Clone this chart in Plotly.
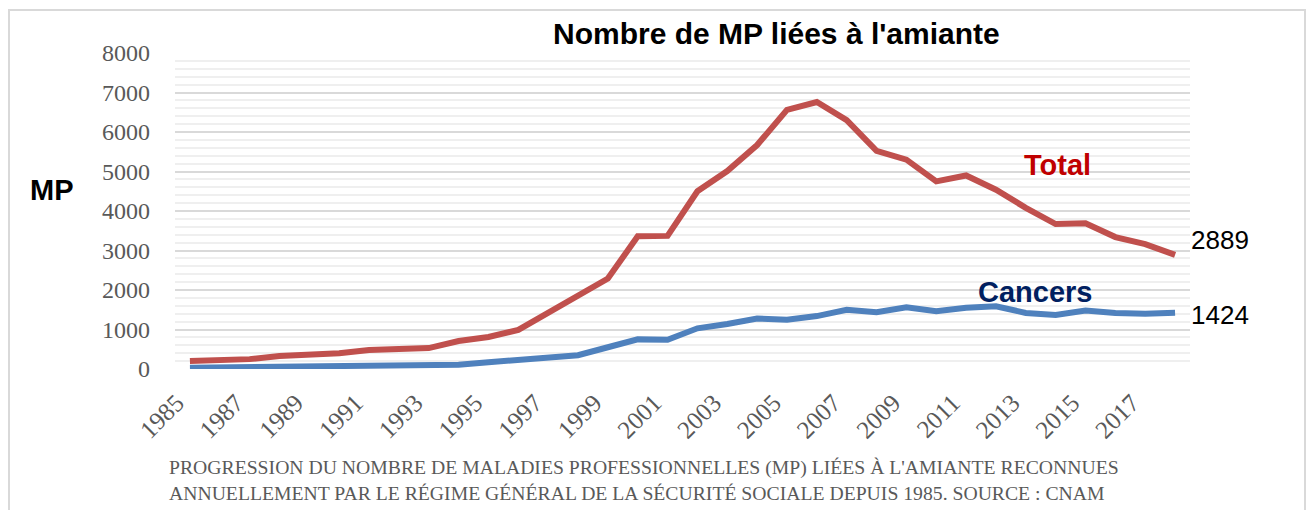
import plotly.graph_objects as go

years = list(range(1985, 2019))
total = [200, 240, 250, 330, 350, 400, 480, 500, 530, 710, 810, 990, 1420, 1830,
         2290, 3360, 3370, 4500, 5010, 5670, 6560, 6760, 6300, 5520, 5300, 4750,
         4900, 4540, 4080, 3670, 3690, 3340, 3160, 2889]
cancers = [30, 40, 35, 50, 60, 70, 75, 80, 90, 110, 170, 230, 290, 350,
           550, 750, 740, 1030, 1140, 1280, 1250, 1340, 1500, 1440, 1560, 1460,
           1550, 1590, 1420, 1370, 1480, 1420, 1400, 1424]
tick_years = list(range(1985, 2018, 2))
tick_text = [str(y) + "\u00a0\u00a0\u00a0" for y in tick_years]

# page offset (browser body margin)
OFF = 8
W, H = 1300, 510
# plot area in screen pixels
SL, SR, ST, SB = 175, 1190, 53, 369
L, R, T, B = SL - OFF, SR - OFF, ST - OFF, SB - OFF


def px(x):
    return (x - SL) / (SR - SL)


def py(y):
    return (SB - y) / (SB - ST)


fig = go.Figure()
fig.add_trace(go.Scatter(x=years, y=total, mode="lines", name="Total",
                         line=dict(color="#c0504d", width=6), showlegend=False))
fig.add_trace(go.Scatter(x=years, y=cancers, mode="lines", name="Cancers",
                         line=dict(color="#4f81bd", width=6), showlegend=False))

serif = "Liberation Serif"
sans = "Liberation Sans"
fig.update_layout(
    width=W, height=H,
    margin=dict(l=L, r=W - R, t=T, b=H - B),
    paper_bgcolor="white", plot_bgcolor="white",
    xaxis=dict(range=[1984.5, 2018.5], tickmode="array", tickvals=tick_years,
               ticktext=tick_text, tickangle=-45,
               showgrid=False, zeroline=False, showline=False, ticks="",
               ticklabelstandoff=0,
               tickfont=dict(family=serif, size=25, color="#595959")),
    yaxis=dict(range=[0, 8000], dtick=1000, showgrid=True, gridcolor="#d9d9d9",
               gridwidth=2, zeroline=False, showline=False, ticks="",
               ticklabelstandoff=24,
               tickfont=dict(family=serif, size=24, color="#595959"),
               minor=dict(dtick=200, showgrid=True, gridcolor="#efefef", gridwidth=2)),
)

ann = [
    dict(text="<b>Nombre de MP liées à l'amiante</b>", x=px(776), y=py(33),
         font=dict(family=sans, size=30, color="black")),
    dict(text="<b>MP</b>", x=px(52), y=py(190),
         font=dict(family=sans, size=29, color="black")),
    dict(text="<b>Total</b>", x=px(1057), y=py(165),
         font=dict(family=sans, size=29, color="#c00000")),
    dict(text="<b>Cancers</b>", x=px(1035), y=py(292),
         font=dict(family=sans, size=29, color="#002060")),
    dict(text="PROGRESSION DU NOMBRE DE MALADIES PROFESSIONNELLES (MP) LIÉES À L'AMIANTE RECONNUES"
              "<br>ANNUELLEMENT PAR LE RÉGIME GÉNÉRAL DE LA SÉCURITÉ SOCIALE DEPUIS 1985. SOURCE : CNAM",
         x=px(167), y=py(480), xanchor="left", align="left",
         font=dict(family=serif, size=19.7, color="#595959")),
]
for a in ann:
    a.setdefault("xanchor", "center")
    fig.add_annotation(xref="paper", yref="paper", yanchor="middle", showarrow=False, **a)

fig.add_annotation(x=years[-1], y=total[-1], text=str(total[-1]), xref="x", yref="y",
                   xanchor="left", yanchor="middle", xshift=14, yshift=15, showarrow=False,
                   font=dict(family=sans, size=26, color="black"))
fig.add_annotation(x=years[-1], y=cancers[-1], text=str(cancers[-1]), xref="x", yref="y",
                   xanchor="left", yanchor="middle", xshift=14, yshift=-2, showarrow=False,
                   font=dict(family=sans, size=26, color="black"))

fig.add_shape(type="rect", xref="paper", yref="paper",
              x0=px(9), x1=px(1305), y0=py(540), y1=py(10),
              line=dict(color="#d9d9d9", width=2), layer="below")

fig.write_html("out.html")
